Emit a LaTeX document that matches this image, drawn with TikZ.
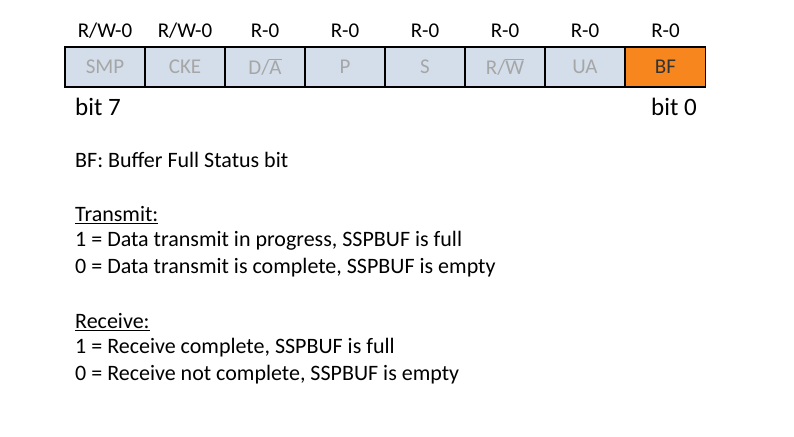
\documentclass[tikz,border=0pt]{standalone}
\usepackage{fontspec}
\setmainfont{Carlito}
\definecolor{cellfill}{HTML}{D3DEEA}
\definecolor{celltext}{HTML}{A6A6A6}
\definecolor{bforange}{HTML}{F7861E}
\begin{document}
\begin{tikzpicture}[x=1pt,y=-1pt,
  cell/.style={draw=black,line width=1.3pt,fill=cellfill,minimum width=80pt,minimum height=40pt,inner sep=0pt,text=celltext,font=\fontsize{21}{24}\selectfont},
  hdr/.style={font=\fontsize{21}{24}\selectfont,inner sep=0pt},
  bitlab/.style={font=\fontsize{25}{28}\selectfont,inner sep=0pt,anchor=west},
  body/.style={font=\fontsize{22}{26}\selectfont,inner sep=0pt,anchor=west}]
\useasboundingbox (0,0) rectangle (794,436);
\def\ovl#1{$\overline{\mbox{#1}}$}
\foreach \n/\lab/\h [count=\i from 0] in {c7/SMP/R\slash W-0, c6/CKE/R\slash W-0, c5/{D/\ovl{A}}/R-0, c4/P/R-0, c3/S/R-0, c2/{R/\ovl{W}}/R-0, c1/UA/R-0}{
  \node[cell] (\n) at (105+80*\i,67) {\lab};
  \node[hdr] (h\n) at (105+80*\i,31) {\h};
}
\node[cell,fill=bforange,text=black!80] (c0) at (665.5,67) {BF};
\node[hdr] (hc0) at (665.5,31) {R-0};
\node[bitlab] (b7) at (75,107) {bit 7};
\node[bitlab,anchor=east] (b0) at (697,107) {bit 0};
\node[body] (t1) at (75,160) {BF: Buffer Full Status bit};
\node[body] (t2) at (75,215) {\underline{Transmit:}};
\node[body] (t3) at (75,241) {1 = Data transmit in progress, SSPBUF is full};
\node[body] (t4) at (75,268) {0 = Data transmit is complete, SSPBUF is empty};
\node[body] (t5) at (75,322) {\underline{Receive:}};
\node[body] (t6) at (75,348) {1 = Receive complete, SSPBUF is full};
\node[body] (t7) at (75,375) {0 = Receive not complete, SSPBUF is empty};
\end{tikzpicture}
\end{document}
